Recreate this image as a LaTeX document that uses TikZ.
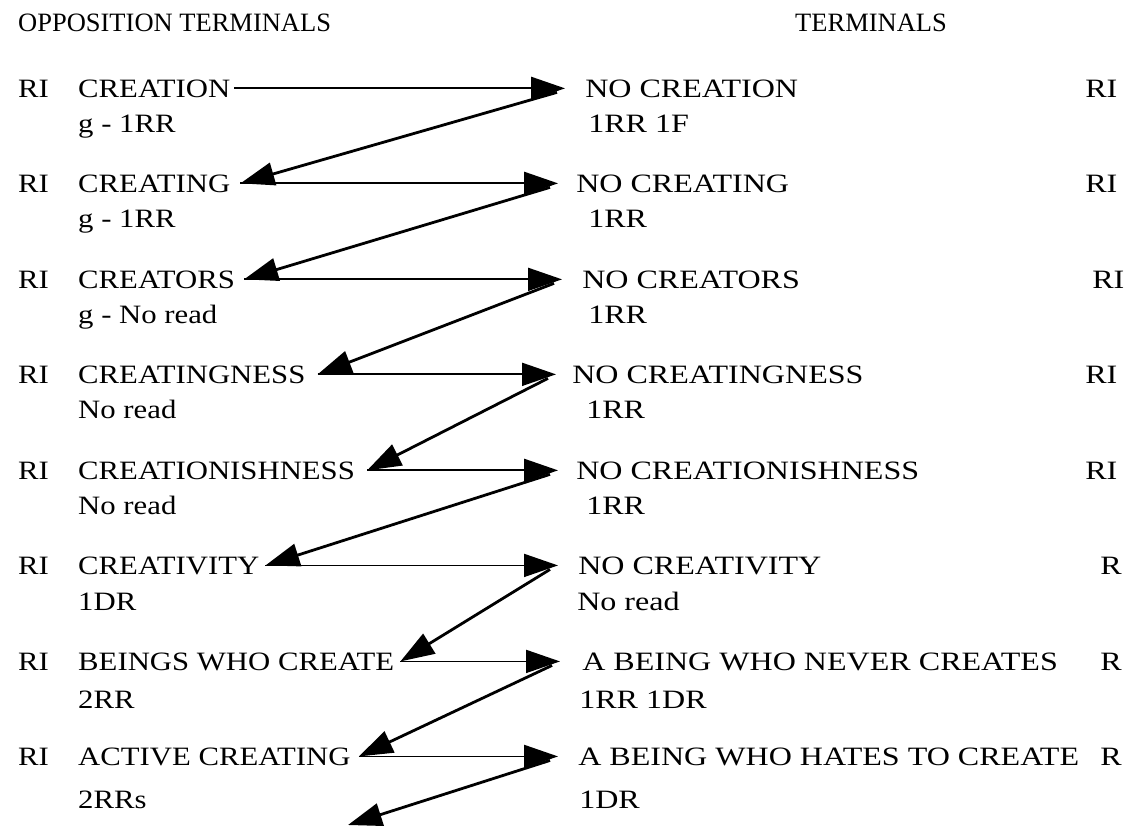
\documentclass[tikz,border=0pt]{standalone}
\usepackage{fontspec}
\setmainfont{Liberation Serif}
\usetikzlibrary{arrows.meta,calc}

\tikzset{
  lbl/.style={anchor=base west, inner sep=0pt, xscale=1.16, font=\fontsize{26.5}{30}\selectfont},
  rlbl/.style={anchor=base west, inner sep=0pt, xscale=1.21, font=\fontsize{26.5}{30}\selectfont},
  head/.style={anchor=base west, inner sep=0pt, font=\fontsize{26.5}{30}\selectfont},
  harrow/.style={draw=black, line width=1.8pt, -{Triangle[length=34pt,width=23pt]}},
  darrow/.style={draw=black, line width=2.8pt, -{Triangle[length=34pt,width=23pt]}}
}

\begin{document}
\begin{tikzpicture}[x=1pt,y=-1pt]
  \useasboundingbox (0,0) rectangle (1134,827);
  \node[head] (top) at (18,31) {OPPOSITION TERMINALS};
  \node[head] (top1) at (795,31) {TERMINALS};
  \begin{scope}[every node/.style={lbl}]
    % left column
    \node (Ar) at (18,97) {RI};
    \node (A) at (78,97) {CREATION};
    \node (Anote) at (78,132) {g - 1RR};
    \node (Br) at (18,192) {RI};
    \node (B) at (78,192) {CREATING};
    \node (Bnote) at (78,227) {g - 1RR};
    \node (Cr) at (18,288) {RI};
    \node (C) at (78,288) {CREATORS};
    \node (Cnote) at (78,323) {g - No read};
    \node (Dr) at (18,383) {RI};
    \node (D) at (78,383) {CREATINGNESS};
    \node (Dnote) at (78,418) {No read};
    \node (Er) at (18,479) {RI};
    \node (E) at (78,479) {CREATIONISHNESS};
    \node (Enote) at (78,514) {No read};
    \node (Fr) at (18,574) {RI};
    \node (F) at (78,574) {CREATIVITY};
    \node (Fnote) at (78,610) {1DR};
    \node (Gr) at (18,670) {RI};
    \node (G) at (78,670) {BEINGS WHO CREATE};
    \node (Gnote) at (78,708) {2RR};
    \node (Hr) at (18,765) {RI};
    \node (H) at (78,765) {ACTIVE CREATING};
    \node (Hnote) at (78,808) {2RRs};
  \end{scope}
  \begin{scope}[every node/.style={rlbl}]
    % right column
    \node (A1) at (585,97) {NO CREATION};
    \node (A1note) at (588,132) {1RR 1F};
    \node (A1r) at (1085,97) {RI};
    \node (B1) at (576,192) {NO CREATING};
    \node (B1note) at (588,227) {1RR};
    \node (B1r) at (1085,192) {RI};
    \node (C1) at (582,288) {NO CREATORS};
    \node (C1note) at (588,323) {1RR};
    \node (C1r) at (1092,288) {RI};
    \node (D1) at (572,383) {NO CREATINGNESS};
    \node (D1note) at (586,418) {1RR};
    \node (D1r) at (1085,383) {RI};
    \node (E1) at (576,479) {NO CREATIONISHNESS};
    \node (E1note) at (586,514) {1RR};
    \node (E1r) at (1085,479) {RI};
    \node (F1) at (578,574) {NO CREATIVITY};
    \node (F1note) at (577,610) {No read};
    \node (F1r) at (1100,574) {R};
    \node (G1) at (582,670) {A BEING WHO NEVER CREATES};
    \node (G1note) at (579,708) {1RR 1DR};
    \node (G1r) at (1100,670) {R};
    \node (H1) at (578,765) {A BEING WHO HATES TO CREATE};
    \node (H1note) at (579,808) {1DR};
    \node (H1r) at (1100,765) {R};
  \end{scope}
  % arrow ends
  \coordinate (At) at ($(A.east)+(4,0)$);
  \coordinate (Bt) at ($(B.east)+(10,0)$);
  \coordinate (Ct) at ($(C.east)+(9,0)$);
  \coordinate (Dt) at ($(D.east)+(12,0)$);
  \coordinate (Et) at ($(E.east)+(12,0)$);
  \coordinate (Ft) at ($(F.east)+(6,0)$);
  \coordinate (Gt) at ($(G.east)+(6,0)$);
  \coordinate (Ht) at ($(H.east)+(8,0)$);
  \coordinate (A1t) at ($(A1.west)+(-20,0)$);
  \coordinate (B1t) at ($(B1.west)+(-18,0)$);
  \coordinate (C1t) at ($(C1.west)+(-20,0)$);
  \coordinate (D1t) at ($(D1.west)+(-16,0)$);
  \coordinate (E1t) at ($(E1.west)+(-18,0)$);
  \coordinate (F1t) at ($(F1.west)+(-20,0)$);
  \coordinate (G1t) at ($(G1.west)+(-22,0)$);
  \coordinate (H1t) at ($(H1.west)+(-20,0)$);
  \coordinate (end) at (348,825);
  \begin{scope}[every edge/.style={harrow}]
    \draw (At) edge (A1t);
    \draw (Bt) edge (B1t);
    \draw (Ct) edge (C1t);
    \draw (Dt) edge (D1t);
    \draw (Et) edge (E1t);
    \draw (Ft) edge (F1t);
    \draw (Gt) edge (G1t);
    \draw (Ht) edge (H1t);
  \end{scope}
  \begin{scope}[every edge/.style={darrow}]
    \draw ($(A1t)+(-8,4)$) edge (Bt);
    \draw ($(B1t)+(-8,4)$) edge (Ct);
    \draw ($(C1t)+(-8,4)$) edge (Dt);
    \draw ($(D1t)+(-8,4)$) edge (Et);
    \draw ($(E1t)+(-8,4)$) edge (Ft);
    \draw ($(F1t)+(-8,4)$) edge (Gt);
    \draw ($(G1t)+(-8,4)$) edge (Ht);
    \draw ($(H1t)+(-8,4)$) edge (end);
  \end{scope}
\end{tikzpicture}
\end{document}
